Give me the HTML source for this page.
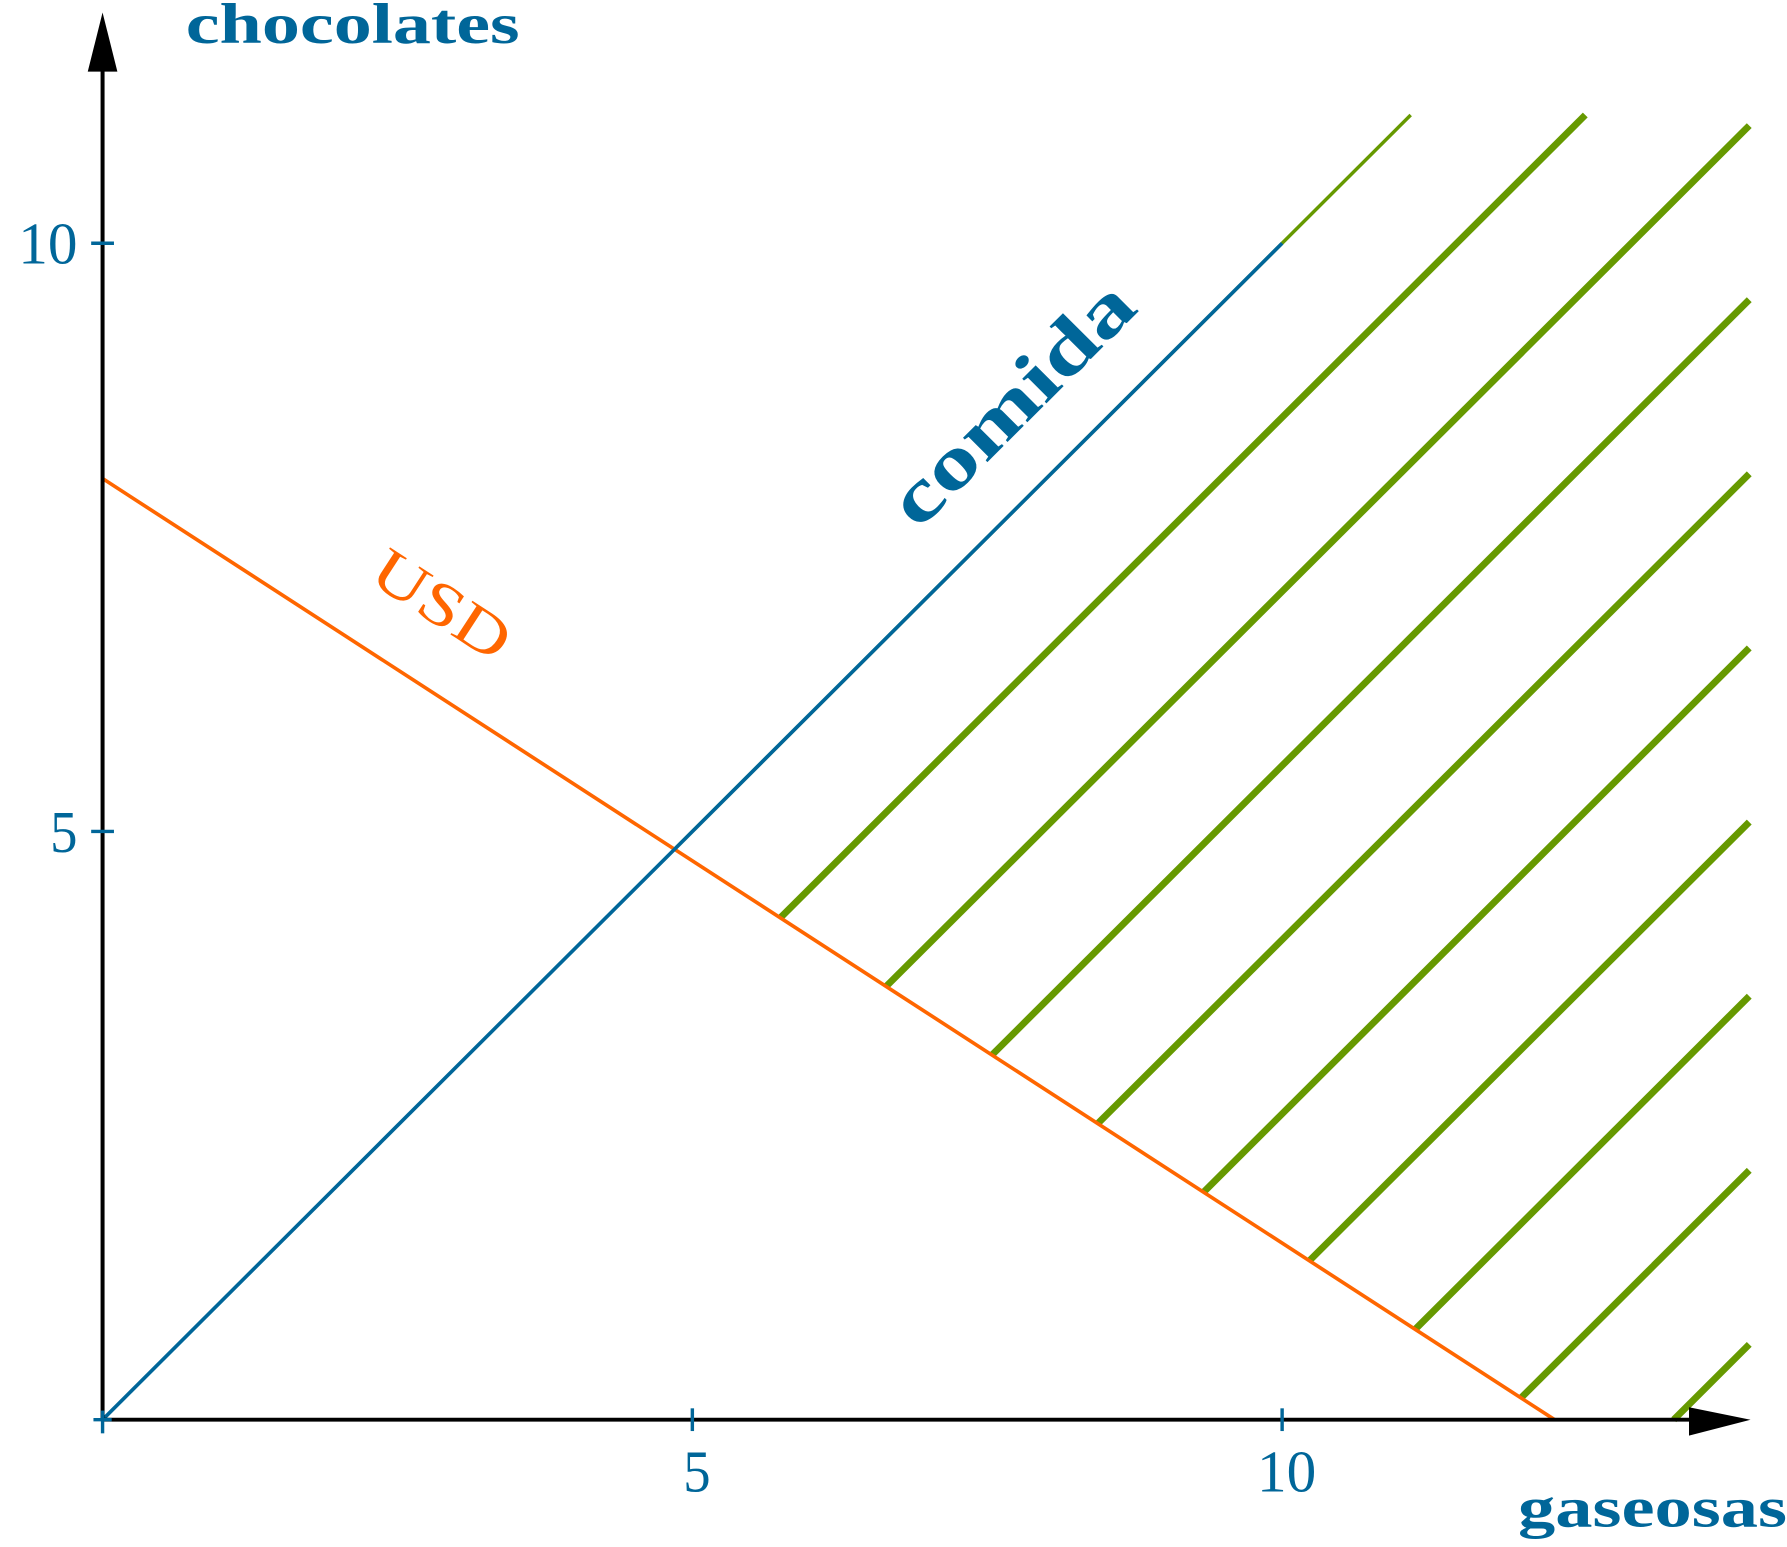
<!DOCTYPE html>
<html><head><meta charset="utf-8"><style>
html,body{margin:0;padding:0;background:#fff;}
svg{display:block;}
text{font-family:"Liberation Serif",serif;}
</style></head><body>
<svg id="chart" width="1787" height="1547" viewBox="0 0 1568 1361" preserveAspectRatio="none" xmlns="http://www.w3.org/2000/svg">
<g id="marks"></g>
<g id="axes"></g>
</svg>
<script>
const xTicks = [5, 10];
const yTicks = [5, 10];
const foodLine = [[0, 0], [10, 10]];
const budgetLine = [[0, 8], [12.31, 0]];
const hatchOffsets = [0, -1.48, -2.96, -4.44, -5.92, -7.4, -8.88, -10.36, -11.84, -13.32];
const xMax = 13.96, yMax = 11.09;

const X0 = 90, Y0 = 1249, U = 103.5;
function sx(v){ return X0 + v*U; }
function sy(v){ return Y0 - v*U; }
const NS = "http://www.w3.org/2000/svg";
const marks = document.getElementById('marks');
const axes = document.getElementById('axes');
function mk(tag, attrs, parent){
  const e = document.createElementNS(NS, tag);
  for (const k in attrs) e.setAttribute(k, attrs[k]);
  parent.appendChild(e); return e;
}
hatchOffsets.forEach((c, i) => {
  const [a,b] = budgetLine;
  const m = (b[1]-a[1])/(b[0]-a[0]);
  let x1 = (a[1] - m*a[0] - c)/(1 - m);
  let y1 = x1 + c;
  if (y1 < 0) { y1 = 0; x1 = -c; }
  let x2 = yMax - c, y2 = yMax;
  if (x2 > xMax) { x2 = xMax; y2 = xMax + c; }
  const l = mk('line', {x1:sx(x1), y1:sy(y1), x2:sx(x2), y2:sy(y2), stroke:'#669900', 'stroke-width': i===0 ? 3 : 6}, marks);
  
  
});
const bl = mk('line', {x1:sx(budgetLine[0][0]), y1:sy(budgetLine[0][1]), x2:sx(budgetLine[1][0]), y2:sy(budgetLine[1][1]), stroke:'#ff6600', 'stroke-width':3.2}, marks);


const fl = mk('line', {x1:sx(foodLine[0][0]), y1:sy(foodLine[0][1]), x2:sx(foodLine[1][0]), y2:sy(foodLine[1][1]), stroke:'#006699', 'stroke-width':3.2}, marks);



const xa = mk('line', {x1:X0, y1:Y0, x2:1490, y2:Y0, stroke:'#000', 'stroke-width':3.5}, axes);


const xar = mk('polygon', {points:'1482,1238 1536,1249 1482,1263', fill:'#000'}, axes);


const ya = mk('line', {x1:X0, y1:Y0, x2:X0, y2:60, stroke:'#000', 'stroke-width':3.5}, axes);


const yar = mk('polygon', {points:'77,63 90,11 103,63', fill:'#000'}, axes);


mk('line', {x1:X0-8, y1:Y0, x2:X0+8, y2:Y0, stroke:'#006699', 'stroke-width':3}, axes);
mk('line', {x1:X0, y1:Y0-8, x2:X0, y2:Y0+12, stroke:'#006699', 'stroke-width':3}, axes);
xTicks.forEach(v => {
  const t = mk('line', {x1:sx(v), y1:Y0-10, x2:sx(v), y2:Y0+10, stroke:'#006699', 'stroke-width':3}, axes);
  
  
  const lb = mk('text', {x:sx(v)+4, y:1312, 'text-anchor':'middle', 'font-size':52, fill:'#006699', textLength: v>=10?52:24, lengthAdjust:'spacingAndGlyphs'}, axes);
  lb.textContent = String(v);
  
  
});
yTicks.forEach(v => {
  const t = mk('line', {x1:X0-10, y1:sy(v), x2:X0+10, y2:sy(v), stroke:'#006699', 'stroke-width':3}, axes);
  
  
  const lb = mk('text', {x:X0-22, y:sy(v)+18, 'text-anchor':'end', 'font-size':52, fill:'#006699', textLength: v>=10?52:24, lengthAdjust:'spacingAndGlyphs'}, axes);
  lb.textContent = String(v);
  
  
});
</script>
<svg style="position:absolute;left:0;top:0" width="1787" height="1547" viewBox="0 0 1568 1361" preserveAspectRatio="none" xmlns="http://www.w3.org/2000/svg">
<text x="163" y="38" font-size="50" font-weight="bold" fill="#006699" textLength="293" lengthAdjust="spacingAndGlyphs" font-family="Liberation Serif, serif">chocolates</text>
<text x="1332" y="1343" font-size="50" font-weight="bold" fill="#006699" textLength="236" lengthAdjust="spacingAndGlyphs" font-family="Liberation Serif, serif">gaseosas</text>
<text x="903" y="370" font-size="66" font-weight="bold" fill="#006699" text-anchor="middle" textLength="275" lengthAdjust="spacingAndGlyphs" transform="rotate(-45 903 370)" font-family="Liberation Serif, serif">comida</text>
<text x="378" y="547" font-size="54" fill="#ff6600" text-anchor="middle" textLength="134" lengthAdjust="spacingAndGlyphs" transform="rotate(33 378 547)" font-family="Liberation Serif, serif">USD</text>
</svg>
</body></html>
